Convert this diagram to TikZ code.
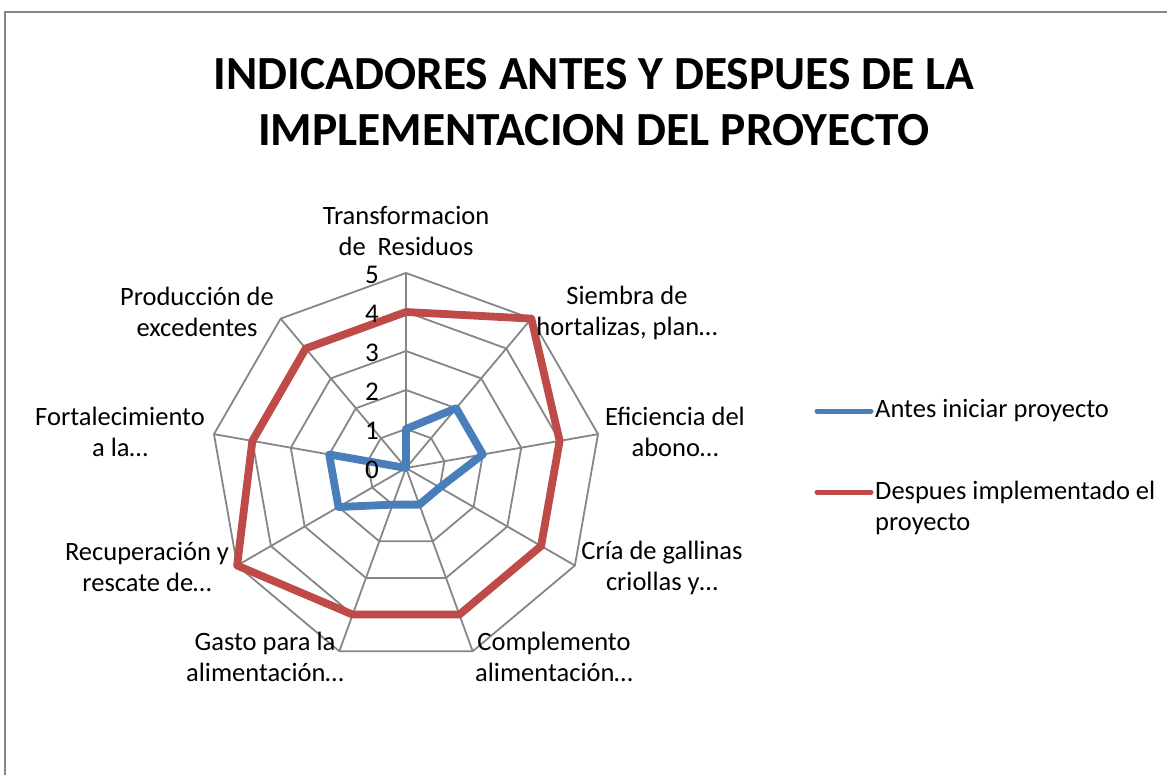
\documentclass[tikz,border=0pt]{standalone}
\usepackage{fontspec}
\setmainfont{Carlito}
\definecolor{antes}{HTML}{4A7EBB}
\definecolor{despues}{HTML}{BE4B48}
\definecolor{gridgray}{HTML}{868686}
\definecolor{framegray}{HTML}{878787}
\begin{document}
\begin{tikzpicture}[x=1pt,y=-1pt,
  gridline/.style={draw=gridgray, line width=1.8pt},
  serie/.style={line width=7.8pt, line join=round},
  legline/.style={line width=5pt, line cap=round},
  lab/.style={font=\fontsize{26.5}{31}\selectfont, align=center, inner sep=0pt},
  ticklab/.style={font=\fontsize{27}{31}\selectfont, inner sep=0pt},
  titlestyle/.style={font=\fontsize{47.5}{56}\selectfont\bfseries, align=center, inner sep=0pt}]
\useasboundingbox (0,0) rectangle (1167,775);
\fill[white] (0,0) rectangle (1167,775);
\draw[framegray, line width=2.5pt] (5,780) -- (5,12) -- (1172,12);

\node[titlestyle] (title) at (594,102) {INDICADORES ANTES Y DESPUES DE LA\\IMPLEMENTACION DEL PROYECTO};

\begin{scope}[shift={(406,468)}]
  \coordinate (c) at (0,0);
  % grid polygons
  \foreach \v in {1,...,5}{
    \draw[gridline] ({-90}:{\v*39}) \foreach \k in {1,...,8}{ -- ({-90+40*\k}:{\v*39})} -- cycle;
  }
  % spokes
  \foreach \k in {0,...,8}{
    \coordinate (ax\k) at ({-90+40*\k}:195);
    \draw[gridline] (c) -- (ax\k);
  }
  % series
  \draw[serie, antes] (-90:39) -- (-50:78) -- (-10:78) -- (30:39) -- (70:39) -- (110:39) -- (150:78) -- (190:78) -- (c) -- cycle;
  \draw[serie, despues] (-90:156) -- (-50:195) -- (-10:156) -- (30:156) -- (70:156) -- (110:156) -- (150:195) -- (190:156) -- (230:156) -- cycle;
  % tick labels
  \foreach \v in {0,...,5}{
    \node[ticklab] (t\v) at (-34,{-39*\v+2}) {\v};
  }
\end{scope}

% category labels
\node[lab] (trans) at (406,231) {Transformacion\\de~ Residuos};
\node[lab] (siembra) at (627,313) {Siembra de\\hortalizas, plan…};
\node[lab] (efic) at (675,432) {Eficiencia del\\abono…};
\node[lab] (cria) at (662,568) {Cría de gallinas\\criollas y…};
\node[lab] (compl) at (554,657) {Complemento\\alimentación…};
\node[lab] (gasto) at (265,657) {Gasto para la\\alimentación…};
\node[lab] (recup) at (147,567) {Recuperación y\\rescate de…};
\node[lab] (fort) at (120,432) {Fortalecimiento\\a la…};
\node[lab] (prod) at (197,312) {Producción de\\excedentes};

% legend
\coordinate (la1) at (817,411);
\coordinate (lb1) at (871,411);
\coordinate (la2) at (817,492);
\coordinate (lb2) at (871,492);
\draw[legline, antes] (la1) -- (lb1);
\draw[legline, despues] (la2) -- (lb2);
\node[lab, anchor=west] (leg1) at (875,411) {Antes iniciar proyecto};
\node[lab, align=left, anchor=west] (leg2) at (875,508) {Despues implementado el\\proyecto};
\end{tikzpicture}
\end{document}
